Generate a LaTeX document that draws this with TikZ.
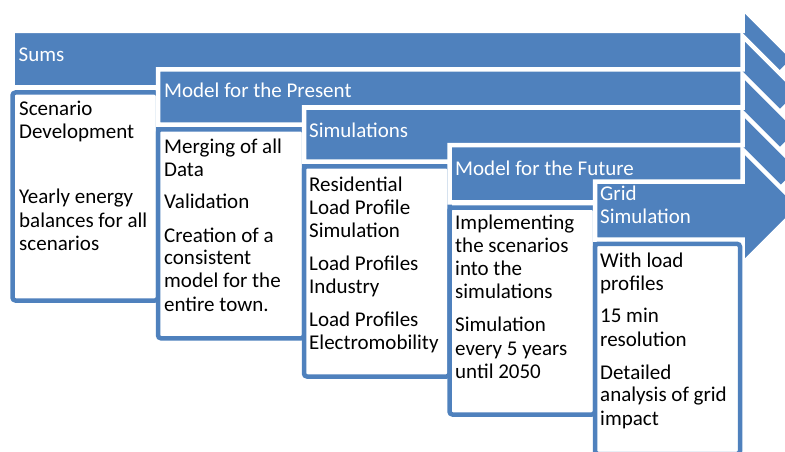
\documentclass[tikz,border=0pt]{standalone}
\usepackage{fontspec}
\setmainfont{Carlito}
\definecolor{bandblue}{RGB}{79,129,189}
\newcommand\stagearrow[6]{% name, L, T, B, HT, HB
  \pgfmathsetmacro\tipx{742.5+(#6-#5)/2}
  \pgfmathsetmacro\tipy{(#5+#6)/2}
  \draw[stagearrowstyle] (#2,#3) -- (742.5,#3) -- (742.5,#5) -- (\tipx,\tipy)
     coordinate (#1tip) -- (742.5,#6) -- (742.5,#4) -- (#2,#4) -- cycle;}
\begin{document}
\begin{tikzpicture}[x=1pt,y=-1pt,
  stagearrowstyle/.style={fill=bandblue, draw=white, line width=4.5pt, line join=miter},
  stagebox/.style={fill=white, draw=bandblue, line width=4.5pt, rounded corners=3pt},
  headtxt/.style={anchor=base west, inner sep=0pt, text=white, font=\fontsize{21}{23}\selectfont},
  bodytxt/.style={anchor=base west, inner sep=0pt, text=black, font=\fontsize{21}{23}\selectfont}]
\useasboundingbox (0,0) rectangle (785,452);
\clip (0,0) rectangle (785,452);

% stage 1
\stagearrow{a1}{12.5}{31}{87.5}{8}{110.5}
\draw[stagebox] (12.5,92.5) rectangle (158,300.5);
% stage 2
\stagearrow{a2}{158}{69.5}{124.5}{36}{149.5}
\draw[stagebox] (158,129.3) rectangle (304,338.3);
% stage 3
\stagearrow{a3}{304}{107.5}{161.5}{74.5}{187.5}
\draw[stagebox] (304,166.3) rectangle (449.5,376.5);
% stage 4
\stagearrow{a4}{449.5}{145}{202.3}{112.5}{226.3}
\draw[stagebox] (449.5,207.5) rectangle (595,414.5);
% stage 5
\stagearrow{a5}{595}{181.5}{239.5}{149.5}{264}
\draw[stagebox] (595,243.8) rectangle (740,454);

% headers
\node[headtxt] (h1) at (18.5,62) {Sums};
\node[headtxt] (h2) at (164,98) {Model for the Present};
\node[headtxt] (h3) at (309,137) {Simulations};
\node[headtxt] (h4) at (455,175) {Model for the Future};
\node[headtxt] (h5a) at (600,200) {Grid};
\node[headtxt] (h5b) at (600,223) {Simulation};

% box 1
\node[bodytxt] (b1a) at (19,115) {Scenario};
\node[bodytxt] (b1b) at (19,138.5) {Development};
\node[bodytxt] (b1c) at (19,203) {Yearly energy};
\node[bodytxt] (b1d) at (19,227) {balances for all};
\node[bodytxt] (b1e) at (19,250) {scenarios};
% box 2
\node[bodytxt] (b2a) at (164,153) {Merging of all};
\node[bodytxt] (b2b) at (164,176) {Data};
\node[bodytxt] (b2c) at (164,208.5) {Validation};
\node[bodytxt] (b2d) at (164,242) {Creation of a};
\node[bodytxt] (b2e) at (164,264.5) {consistent};
\node[bodytxt] (b2f) at (164,287.5) {model for the};
\node[bodytxt] (b2g) at (164,311) {entire town.};
% box 3
\node[bodytxt] (b3a) at (309,191.7) {Residential};
\node[bodytxt] (b3b) at (309,214.4) {Load Profile};
\node[bodytxt] (b3c) at (309,237) {Simulation};
\node[bodytxt] (b3d) at (309,270.7) {Load Profiles};
\node[bodytxt] (b3e) at (309,293.3) {Industry};
\node[bodytxt] (b3f) at (309,326.7) {Load Profiles};
\node[bodytxt] (b3g) at (309,349.3) {Electromobility};
% box 4
\node[bodytxt] (b4a) at (455,229.5) {Implementing};
\node[bodytxt] (b4b) at (455,252.5) {the scenarios};
\node[bodytxt] (b4c) at (455,275) {into the};
\node[bodytxt] (b4d) at (455,298.3) {simulations};
\node[bodytxt] (b4e) at (455,331.7) {Simulation};
\node[bodytxt] (b4f) at (455,355) {every 5 years};
\node[bodytxt] (b4g) at (455,378.3) {until 2050};
% box 5
\node[bodytxt] (b5a) at (600,267.3) {With load};
\node[bodytxt] (b5b) at (600,290) {profiles};
\node[bodytxt] (b5c) at (600,322.7) {15 min};
\node[bodytxt] (b5d) at (600,346) {resolution};
\node[bodytxt] (b5e) at (600,379) {Detailed};
\node[bodytxt] (b5f) at (600,401.7) {analysis of grid};
\node[bodytxt] (b5g) at (600,425) {impact};
\end{tikzpicture}
\end{document}
